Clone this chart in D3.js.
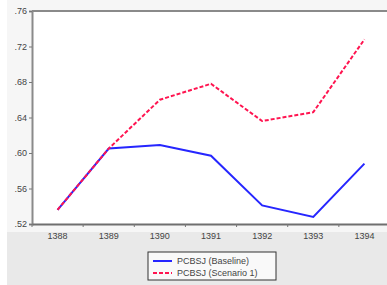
<!DOCTYPE html>
<html>
<head>
<meta charset="utf-8">
<script src="https://cdn.jsdelivr.net/npm/d3@7"></script>
<style>
  body { margin: 0; background: #ffffff; }
  svg { display: block; font-family: "Liberation Sans", Arial, sans-serif; }
</style>
</head>
<body>
<div id="chart"></div>
<script>
var years = ["1388", "1389", "1390", "1391", "1392", "1393", "1394"];
var baseline = [0.536, 0.605, 0.609, 0.597, 0.541, 0.528, 0.588];
var scenario1 = [0.536, 0.605, 0.660, 0.678, 0.636, 0.646, 0.728];
var yTicks = [0.52, 0.56, 0.60, 0.64, 0.68, 0.72, 0.76];
var seriesNames = ["PCBSJ (Baseline)", "PCBSJ (Scenario 1)"];
var seriesColors = ["#2626ff", "#ff1450"];

var W = 387, H = 285;
var plotL = 32, plotR = 390, plotT = 11, plotB = 224;

var svg = d3.select("#chart").append("svg")
    .attr("width", W).attr("height", H);

// grey panel behind the chart
svg.append("rect").attr("x", 7).attr("y", 0)
    .attr("width", W - 7).attr("height", H)
    .attr("fill", "#e9e9e9");
svg.append("rect").attr("x", 7).attr("y", 0)
    .attr("width", W - 7).attr("height", 232)
    .attr("fill", "#f6f6f6");
svg.append("rect").attr("x", plotL).attr("y", plotT)
    .attr("width", plotR - plotL).attr("height", plotB - plotT)
    .attr("fill", "#ffffff");

var x = d3.scaleBand().domain(years).range([plotL, plotR]);
var y = d3.scaleLinear().domain([0.52, 0.76]).range([plotB, plotT]);

// top border
svg.append("line").attr("x1", plotL).attr("x2", W)
    .attr("y1", plotT).attr("y2", plotT)
    .attr("stroke", "#8a8a8a").attr("stroke-width", 2);

// y axis
var yAxis = svg.append("g").attr("transform", "translate(" + plotL + ",0)")
    .call(d3.axisLeft(y).tickValues(yTicks).tickSize(3).tickPadding(2)
        .tickFormat(function(d) { return d3.format(".2f")(d).replace(/^0/, ""); }));
yAxis.select(".domain").attr("stroke", "#8a8a8a").attr("stroke-width", 2);
yAxis.selectAll(".tick line").attr("stroke", "#777");
yAxis.selectAll("text").attr("fill", "#444").style("font-size", "9px");

// x axis
var xAxis = svg.append("g").attr("transform", "translate(0," + plotB + ")")
    .call(d3.axisBottom(x).tickSize(0).tickPadding(9));
xAxis.select(".domain").attr("stroke", "#6f6f6f").attr("stroke-width", 2);
xAxis.selectAll("text").attr("fill", "#444").style("font-size", "9px");
xAxis.selectAll(".edge").data(years).enter().append("line")
    .attr("x1", function(d) { return x(d); })
    .attr("x2", function(d) { return x(d); })
    .attr("y1", 0).attr("y2", 3)
    .attr("stroke", "#777");

var line = d3.line()
    .x(function(d, i) { return x(years[i]) + x.bandwidth() / 2; })
    .y(function(d) { return y(d); });

svg.append("path").datum(baseline)
    .attr("d", line).attr("fill", "none")
    .attr("stroke", seriesColors[0]).attr("stroke-width", 2);
svg.append("path").datum(scenario1)
    .attr("d", line).attr("fill", "none")
    .attr("stroke", seriesColors[1]).attr("stroke-width", 2)
    .attr("stroke-dasharray", "4,2");

// legend
var lg = svg.append("g").attr("transform", "translate(148,252)");
lg.append("rect").attr("width", 128).attr("height", 28)
    .attr("fill", "#f9f9f9").attr("stroke", "#333").attr("stroke-width", 1);
seriesNames.forEach(function(name, i) {
    var yy = 9 + i * 12;
    lg.append("line").attr("x1", 5).attr("x2", 24)
        .attr("y1", yy).attr("y2", yy)
        .attr("stroke", seriesColors[i]).attr("stroke-width", 2)
        .attr("stroke-dasharray", i ? "4,2" : null);
    lg.append("text").attr("x", 29).attr("y", yy + 3)
        .attr("fill", "#444").style("font-size", "9px").text(name);
});
</script>
</body>
</html>
